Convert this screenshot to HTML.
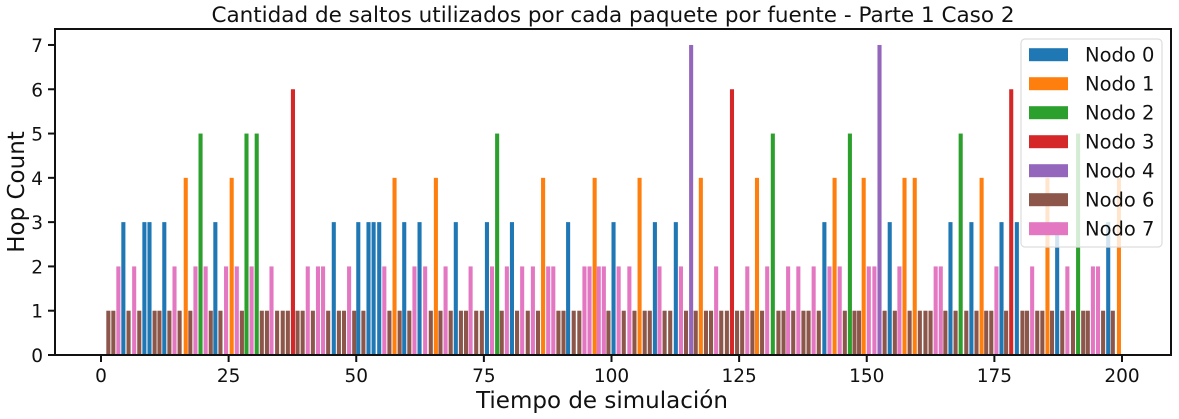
<!DOCTYPE html>
<html><head><meta charset="utf-8"><style>
body{margin:0;background:#fff;}
svg{display:block;font-family:"DejaVu Sans","Liberation Sans",sans-serif;}
</style></head><body>
<svg id="chart" width="1179" height="419" viewBox="0 0 1179 419" xmlns="http://www.w3.org/2000/svg">
<rect width="1179" height="419" fill="#fff"/>
<text x="613" y="22" font-size="21.5" text-anchor="middle" fill="#111">Cantidad de saltos utilizados por cada paquete por fuente - Parte 1 Caso 2</text>
<g id="bars"></g>
<g id="axes"></g>
<g id="legend"></g>
<text x="602" y="408" font-size="23" text-anchor="middle" fill="#111">Tiempo de simulación</text>
<text transform="translate(24,192) rotate(-90)" font-size="23" text-anchor="middle" fill="#111">Hop Count</text>
</svg>
<script>
const times=[1.44,2.42,3.4,4.38,5.4,6.5,7.5,8.5,9.5,10.5,11.45,12.4,13.4,14.4,15.4,16.6,17.5,18.5,19.5,20.5,21.5,22.4,23.4,24.5,25.6,26.6,27.6,28.5,29.5,30.5,31.5,32.5,33.4,34.5,35.6,36.6,37.6,38.5,39.5,40.5,41.5,42.5,43.5,44.5,45.6,46.6,47.6,48.6,49.6,
50.4,51.4,52.4,53.4,54.5,55.5,56.5,57.5,58.5,59.4,60.4,61.4,62.4,63.5,64.6,65.6,66.5,67.5,68.5,69.5,70.5,71.5,72.4,73.5,74.6,75.6,76.6,77.6,78.5,79.5,80.5,81.5,82.5,83.6,84.6,85.6,86.6,87.6,88.6,89.6,90.6,91.5,92.6,93.7,94.7,95.7,96.7,
97.5,98.5,99.4,100.4,101.4,102.4,103.5,104.5,105.5,106.5,107.5,108.5,109.4,110.4,111.5,112.6,113.6,114.6,115.6,116.5,117.5,118.5,119.5,120.5,121.5,122.6,123.6,124.6,125.6,126.6,127.6,128.5,129.5,130.5,131.6,132.7,133.7,134.6,135.6,136.6,137.6,138.6,139.6,140.6,141.7,142.7,143.7,144.7,145.7,146.7,147.6,
148.5,149.4,150.4,151.5,152.5,153.5,154.5,155.5,156.4,157.4,158.4,159.4,160.4,161.5,162.5,163.5,164.5,165.4,166.4,167.4,168.4,169.5,170.5,171.5,172.5,173.4,174.4,175.4,176.4,177.3,178.3,179.4,180.5,181.4,182.4,183.4,184.4,185.4,186.3,187.3,188.3,189.3,190.4,191.4,192.4,193.3,194.3,195.3,196.3,197.3,198.2,199.4];
const nodes=[6,6,7,0,6,7,6,0,0,6,6,0,6,7,6,1,6,7,2,7,6,0,6,7,1,7,6,2,7,2,6,6,7,6,6,6,3,6,6,7,6,7,7,6,0,6,6,7,6,
0,6,0,0,0,7,6,1,6,0,6,7,0,7,6,1,6,7,6,0,6,6,7,6,6,0,7,2,6,7,0,6,7,6,7,6,1,7,7,6,6,0,6,6,7,7,1,
7,7,6,0,7,6,7,6,1,6,6,0,7,6,6,0,7,6,4,6,1,6,6,7,6,6,3,6,6,7,6,1,6,7,2,6,6,7,6,7,6,6,7,6,0,7,1,7,6,2,6,
6,1,7,7,4,6,0,6,7,1,6,1,6,6,6,7,7,6,0,6,2,6,0,6,1,6,6,7,0,6,3,0,6,6,7,6,6,1,6,0,6,7,6,2,6,6,7,7,6,0,6,1];
const nodeIds=[0,1,2,3,4,6,7];
const nodeHops=[3,4,5,6,7,1,2];
const nodeLabels=["Nodo 0","Nodo 1","Nodo 2","Nodo 3","Nodo 4","Nodo 6","Nodo 7"];
const xTicks=[0,25,50,75,100,125,150,175,200];
const yTicks=[0,1,2,3,4,5,6,7];
const colors={0:"#1f77b4",1:"#ff7f0e",2:"#2ca02c",3:"#d62728",4:"#9467bd",6:"#8c564b",7:"#e377c2"};
const L=55,R=1171,T=29,B=355;
const sx=v=>101+v*5.105;
const sy=v=>355-v*44.29;
const NS="http://www.w3.org/2000/svg";
function mk(tag,attrs,parent){const e=document.createElementNS(NS,tag);for(const k in attrs)e.setAttribute(k,attrs[k]);parent.appendChild(e);return e;}
const bars=document.getElementById('bars');
times.forEach((t,i)=>{
  const n=nodes[i];const h=nodeHops[nodeIds.indexOf(n)];
  const x0=sx(t-0.4),x1=sx(t+0.4);
  const r=mk('rect',{x:x0,y:sy(h),width:x1-x0,height:sy(0)-sy(h),fill:colors[n]},bars);
  
  
});
const ax=document.getElementById('axes');
mk('rect',{x:L,y:T,width:R-L,height:B-T,fill:'none',stroke:'#111','stroke-width':2},ax);
xTicks.forEach(v=>{
  mk('line',{x1:sx(v),x2:sx(v),y1:B,y2:B+7,stroke:'#111','stroke-width':2},ax);
  const t=mk('text',{x:sx(v),y:B+27,'font-size':18.5,'text-anchor':'middle',fill:'#111'},ax);
  t.textContent=v;
  
  
});
yTicks.forEach(v=>{
  mk('line',{x1:L-7,x2:L,y1:sy(v),y2:sy(v),stroke:'#111','stroke-width':2},ax);
  const t=mk('text',{x:L-12,y:sy(v)+7,'font-size':18.5,'text-anchor':'end',fill:'#111'},ax);
  t.textContent=v;
  
  
});
const lg=document.getElementById('legend');
mk('rect',{x:1021,y:39,width:141,height:208,rx:4,fill:'#fff','fill-opacity':0.8,stroke:'#ddd','stroke-width':1.2},lg);
nodeIds.forEach((n,i)=>{
  const cy=54.7+i*29;
  const g=mk('g',{},lg);
  
  
  mk('rect',{x:1029,y:cy-6.5,width:39,height:13,fill:colors[n]},g);
  const t=mk('text',{x:1085,y:cy+7,'font-size':19.5,fill:'#111'},g);
  t.textContent=nodeLabels[i];
});
</script>
</body></html>
